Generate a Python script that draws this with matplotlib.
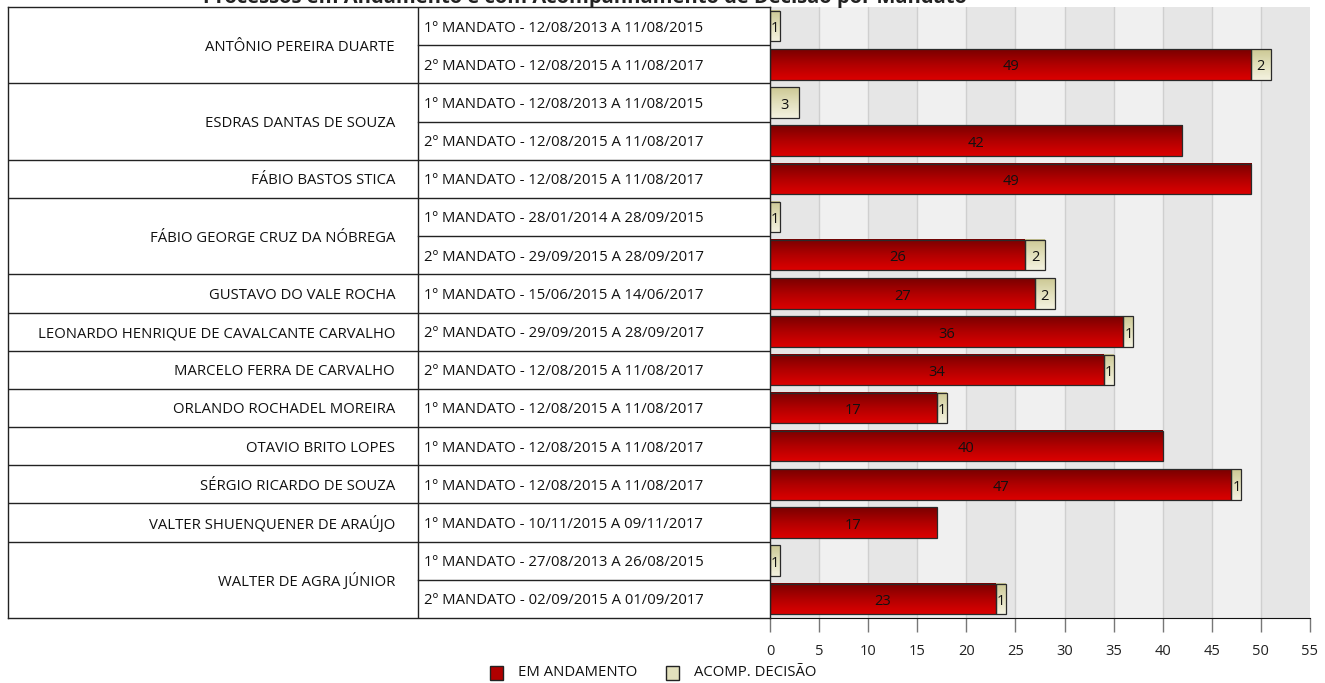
import numpy as np
import matplotlib
matplotlib.use('Agg')
import matplotlib.pyplot as plt
from matplotlib.colors import LinearSegmentedColormap
from matplotlib.patches import Rectangle

plt.rcParams['font.family'] = ['Open Sans', 'DejaVu Sans']

title = 'Processos em Andamento e com Acompanhamento de Decisão por Mandato'

names = ['ANTÔNIO PEREIRA DUARTE', 'ANTÔNIO PEREIRA DUARTE',
         'ESDRAS DANTAS DE SOUZA', 'ESDRAS DANTAS DE SOUZA',
         'FÁBIO BASTOS STICA',
         'FÁBIO GEORGE CRUZ DA NÓBREGA', 'FÁBIO GEORGE CRUZ DA NÓBREGA',
         'GUSTAVO DO VALE ROCHA',
         'LEONARDO HENRIQUE DE CAVALCANTE CARVALHO',
         'MARCELO FERRA DE CARVALHO',
         'ORLANDO ROCHADEL MOREIRA',
         'OTAVIO BRITO LOPES',
         'SÉRGIO RICARDO DE SOUZA',
         'VALTER SHUENQUENER DE ARAÚJO',
         'WALTER DE AGRA JÚNIOR', 'WALTER DE AGRA JÚNIOR']

mandatos = ['1º MANDATO - 12/08/2013 A 11/08/2015',
            '2º MANDATO - 12/08/2015 A 11/08/2017',
            '1º MANDATO - 12/08/2013 A 11/08/2015',
            '2º MANDATO - 12/08/2015 A 11/08/2017',
            '1º MANDATO - 12/08/2015 A 11/08/2017',
            '1º MANDATO - 28/01/2014 A 28/09/2015',
            '2º MANDATO - 29/09/2015 A 28/09/2017',
            '1º MANDATO - 15/06/2015 A 14/06/2017',
            '2º MANDATO - 29/09/2015 A 28/09/2017',
            '2º MANDATO - 12/08/2015 A 11/08/2017',
            '1º MANDATO - 12/08/2015 A 11/08/2017',
            '1º MANDATO - 12/08/2015 A 11/08/2017',
            '1º MANDATO - 12/08/2015 A 11/08/2017',
            '1º MANDATO - 10/11/2015 A 09/11/2017',
            '1º MANDATO - 27/08/2013 A 26/08/2015',
            '2º MANDATO - 02/09/2015 A 01/09/2017']

em_andamento = [0, 49, 0, 42, 49, 0, 26, 27, 36, 34, 17, 40, 47, 17, 0, 23]
acomp_decisao = [1, 2, 3, 0, 0, 1, 2, 2, 1, 1, 1, 0, 1, 0, 1, 1]

xticks = list(range(0, 56, 5))

W, H = 1325, 683
fig = plt.figure(figsize=(W / 100, H / 100), dpi=100)

top_px, bot_px = 7, 618
ax_left, ax_right = 770, 1310
tab_left = 8
ax = fig.add_axes([ax_left / W, 1 - bot_px / H, (ax_right - ax_left) / W, (bot_px - top_px) / H])
tax = fig.add_axes([tab_left / W, 1 - bot_px / H, (ax_left - tab_left) / W, (bot_px - top_px) / H], sharey=ax)

n = len(names)
ax.set_xlim(0, 55)
ax.set_ylim(n - 0.5, -0.5)

# alternating background bands + grid
for i, x0 in enumerate(xticks[:-1]):
    ax.axvspan(x0, x0 + 5, color='#e6e6e6' if i % 2 == 0 else '#f0f0f0', zorder=0, lw=0)
for x in xticks[1:-1]:
    ax.axvline(x, color='#cfcfcf', lw=1, zorder=0.5)

red_cm = LinearSegmentedColormap.from_list('r', ['#7a0000', '#b00000', '#dc0000'])
beige_cm = LinearSegmentedColormap.from_list('b', ['#ccc894', '#e2e0bc', '#f4f2e0'])
grad = np.linspace(0, 1, 64).reshape(-1, 1)
bh = 0.8

def gbar(y, left, width, cmap):
    if width <= 0:
        return
    ax.imshow(grad, cmap=cmap, aspect='auto', interpolation='bicubic',
              extent=[left, left + width, y + bh / 2, y - bh / 2], zorder=2)
    ax.add_patch(Rectangle((left, y - bh / 2), width, bh, fill=False,
                           edgecolor='#2a2a2a', lw=0.9, zorder=3))

for i in range(n):
    a, b = em_andamento[i], acomp_decisao[i]
    gbar(i, 0, a, red_cm)
    gbar(i, a, b, beige_cm)
    if a > 0:
        ax.text(a / 2, i + 0.07, str(a), ha='center', va='center', fontsize=10.5, color='#111', zorder=4)
    if b > 0:
        ax.text(a + b / 2, i + 0.07, str(b), ha='center', va='center', fontsize=10.5, color='#111', zorder=4)

ax.set_xlim(0, 55)
ax.set_ylim(n - 0.5, -0.5)
ax.set_xticks(xticks)
ax.set_yticks([])
ax.tick_params(axis='x', length=10, width=1, color='#777777', pad=9, labelsize=10.5, labelcolor='#222222')
for s in ['top', 'right', 'left']:
    ax.spines[s].set_visible(False)
ax.spines['bottom'].set_color('#111111')

# table
tax.set_xlim(0, ax_left - tab_left)
tax.set_xticks([])
tax.tick_params(left=False, labelleft=False)
for s in tax.spines.values():
    s.set_color('#222222')
    s.set_linewidth(1)
div = 410
tax.axvline(div, color='#222222', lw=1)

groups = []
start = 0
for i in range(1, n + 1):
    if i == n or names[i] != names[start]:
        groups.append((start, i))
        start = i
for g0, g1 in groups:
    if g0 > 0:
        tax.plot([0, ax_left - tab_left], [g0 - 0.5, g0 - 0.5], color='#222222', lw=1)
    for k in range(g0 + 1, g1):
        tax.plot([div, ax_left - tab_left], [k - 0.5, k - 0.5], color='#222222', lw=1)
    tax.text(387, (g0 + g1 - 1) / 2 + 0.05, names[g0], ha='right', va='center', fontsize=10.7, color='#111')
for i in range(n):
    tax.text(416, i + 0.05, mandatos[i], ha='left', va='center', fontsize=10.7, color='#111')

# title (cut off at the top as in the source)
fig.text(585 / W, 1 - 3 / H, title, ha='center', va='baseline', fontsize=14.5, fontweight='bold', color='#222')

# legend
ly = 673
for x0, col, lab in [(490, '#b00000', 'EM ANDAMENTO'), (666, '#e2e0bc', 'ACOMP. DECISÃO')]:
    fig.add_artist(Rectangle((x0 / W, 1 - (ly + 7) / H), 13 / W, 14 / H, transform=fig.transFigure,
                             facecolor=col, edgecolor='#222222', lw=1))
    fig.text((x0 + 28) / W, 1 - ly / H, lab, ha='left', va='center', fontsize=10.7, color='#111')

fig.savefig('out.png', dpi=100)
